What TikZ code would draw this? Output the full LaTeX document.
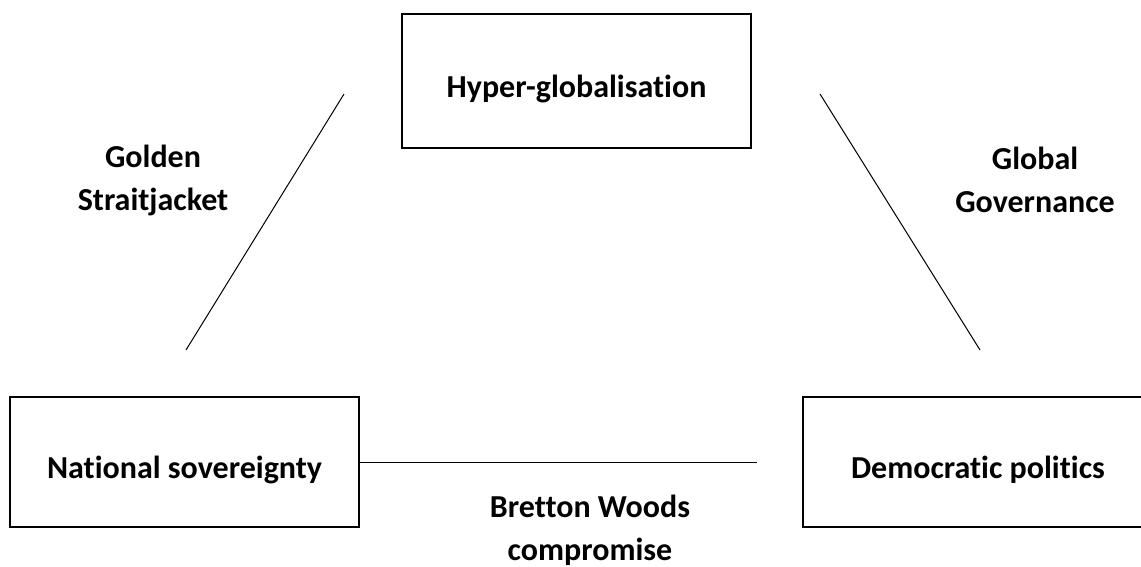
\documentclass[tikz,border=0pt]{standalone}
\usepackage{fontspec}
\setmainfont{Carlito}[Ligatures=NoCommon]
\usepackage{tikz}
\usetikzlibrary{positioning}

\begin{document}
\begin{tikzpicture}[x=1pt, y=-1pt,
        corner/.style={draw, line width=1.3pt, inner sep=0pt, text height=33pt, text depth=0pt,
            font=\fontsize{32}{43}\selectfont\bfseries},
        path/.style={font=\fontsize{32}{43}\selectfont\bfseries, align=center, inner sep=0pt},
        link/.style={line width=1pt}]
    \useasboundingbox (0,0) rectangle (1141,566);
    \clip (0,0) rectangle (1141,566);
    % the trilemma corners
    \node[corner, minimum width=349, minimum height=134] (hyper) at (576.5,81) {Hyper-globalisation};
    \node[corner, minimum width=349, minimum height=130] (nation) at (184.5,462) {National sovereignty};
    \node[corner, minimum width=350, minimum height=130] (demo) at (978,462) {Democratic politics};
    % line ends
    \coordinate (gs1) at (344,94);
    \coordinate (gs2) at (186,350);
    \coordinate (gg1) at (820,94);
    \coordinate (gg2) at (980,350);
    \coordinate (bw) at (757,462);
    \draw[link] (gs1) -- (gs2);
    \draw[link] (gg1) -- (gg2);
    \draw[link] (nation.east) -- (bw);
    % the three ways out
    \node[path] (golden) at (153,180) {Golden\\Straitjacket};
    \node[path] (global) at (1035,180) {Global\\Governance};
    \node[path] (bretton) at (590,530) {Bretton Woods\\compromise};
\end{tikzpicture}
\end{document}
